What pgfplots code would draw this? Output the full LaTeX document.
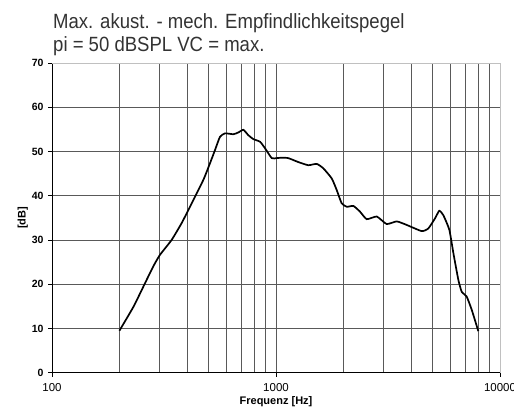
\documentclass[border=0pt]{standalone}
\usepackage{fontspec}
\setmainfont{Liberation Sans}
\newfontfamily\titlefont[FakeStretch=0.9]{Liberation Sans}
\usepackage{pgfplots}
\pgfplotsset{compat=1.18}
\definecolor{titlegray}{HTML}{333333}
\definecolor{gridc}{HTML}{595959}
\definecolor{borderc}{HTML}{C0C0C0}
\begin{document}
\begin{tikzpicture}
\path[use as bounding box] (-52bp,-41.3bp) rectangle (462bp,372.7bp);
\node[anchor=base west, text=titlegray, font=\titlefont\fontsize{20.6bp}{22bp}\selectfont, inner sep=0pt] at (1bp,344bp) {Max. akust. - mech. Empfindlichkeitspegel};
\node[anchor=base west, text=titlegray, font=\titlefont\fontsize{20.6bp}{22bp}\selectfont, inner sep=0pt] at (1bp,321bp) {pi = 50 dBSPL VC = max.};
\begin{axis}[
  at={(0,0)}, anchor=south west,
  scale only axis, width=448bp, height=309.7bp,
  xmode=log, xmin=100, xmax=10000, ymin=0, ymax=70,
  axis x line*=bottom, axis y line*=left,
  axis line style={black, line width=0.8bp},
  xtick={100,1000,10000}, xticklabels={100,1000,10000},
  minor xtick={200,300,400,500,600,700,800,900,2000,3000,4000,5000,6000,7000,8000,9000},
  ytick={0,10,20,30,40,50,60,70},
  xmajorgrids, xminorgrids, ymajorgrids,
  major grid style={gridc, line width=0.7bp},
  minor grid style={gridc, line width=0.7bp},
  tick align=outside, major tick length=4bp, minor tick length=0pt,
  tick style={black, line width=0.7bp},
  /pgf/number format/assume math mode=true,
  xticklabel style={font=\fontsize{11.5bp}{12bp}\selectfont, yshift=-3bp},
  yticklabel style={font=\bfseries\fontsize{10.5bp}{12bp}\selectfont, xshift=-1bp},
  xlabel={Frequenz [Hz]}, ylabel={[dB]},
  xlabel style={font=\bfseries\fontsize{11bp}{12bp}\selectfont, at={(axis description cs:0.5,-0.0936)}, anchor=center},
  ylabel style={font=\bfseries\fontsize{11bp}{12bp}\selectfont, at={(axis description cs:-0.065,0.5)}, anchor=center},
  clip=false,
]
\addplot[black, line width=1.7bp, smooth, tension=0.3] coordinates {
(200,9.5) (231,14.9) (260,20.2) (283,24.0) (303,26.6) (342,30.0) (379,33.8)
(413,37.5) (474,43.6) (507,47.3) (534,50.3) (562,53.3) (592,54.1) (645,53.9)
(679,54.3) (715,54.9) (752,53.7) (792,52.8) (849,52.2) (894,50.7) (957,48.5)
(1007,48.5) (1060,48.6) (1135,48.5) (1259,47.6) (1394,46.9) (1520,47.2)
(1626,46.2) (1774,43.9) (1866,41.3) (1964,38.3) (2069,37.5) (2215,37.7)
(2371,36.4) (2541,34.7) (2818,35.3) (3119,33.6) (3459,34.2) (3831,33.4)
(4471,32.0) (4786,32.6) (5129,34.9) (5358,36.6) (5585,35.6) (5940,32.3)
(6194,27.0) (6516,21.0) (6745,18.3) (7100,17.2) (7480,14.2) (8000,9.4)
};
\draw[borderc, line width=0.8bp] (rel axis cs:0,1) -- (rel axis cs:1,1) -- (rel axis cs:1,0);
\end{axis}
\end{tikzpicture}
\end{document}
